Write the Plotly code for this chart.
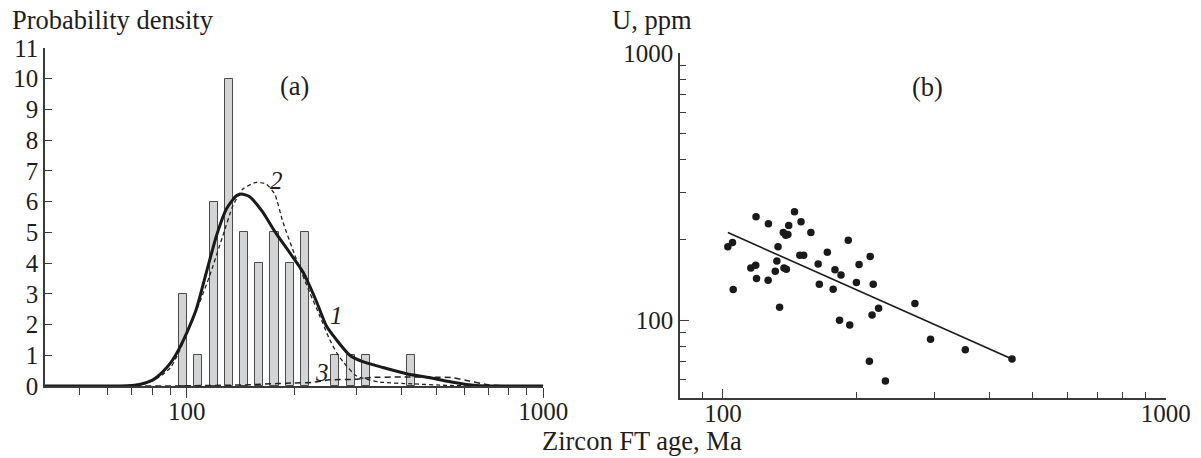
import numpy as np
import plotly.graph_objects as go

# ---------------- data: panel (a) ----------------
bar_age = [97.8, 107.6, 118.9, 131.0, 144.7, 159.5, 176.2, 194.3, 214.8, 260.8, 289.0, 318.2, 426.0]
bar_count = [3, 1, 6, 10, 5, 4, 5, 4, 5, 1, 1, 1, 1]

curve1_age = [40, 60, 68, 73.6, 80.3, 85.7, 90, 95, 100, 106.3, 113.4, 121.1, 129.1, 137.7, 142.2,
              150, 163.5, 176, 194.1, 211.9, 231, 246.4, 263, 286.5, 310, 355, 413, 481, 558, 609, 664, 1000]
curve1_pd = [0, 0, 0.01, 0.05, 0.2, 0.47, 0.75, 1.2, 1.74, 2.5, 3.69, 4.89, 5.76, 6.19, 6.25,
             6.16, 5.65, 5.05, 4.35, 3.7, 2.75, 1.95, 1.5, 1.0, 0.8, 0.6, 0.4, 0.27, 0.12, 0.05, 0.01, 0]

curve2_age = [40, 65, 72, 78.5, 85, 90, 95, 100, 108.6, 115.8, 126.2, 134.6, 143.6, 156.6, 167, 176.3,
              186.2, 202.8, 221.2, 236, 251.4, 263, 274, 299, 347.6, 430, 535, 650, 1000]
curve2_pd = [0, 0, 0.03, 0.12, 0.35, 0.6, 1.1, 1.75, 2.72, 3.58, 4.89, 5.86, 6.41, 6.63, 6.57, 6.25,
             5.32, 4.13, 3.04, 2.28, 1.52, 1.09, 0.8, 0.33, 0.13, 0.07, 0.02, 0, 0]

curve3_age = [40, 90, 120, 150, 180, 200, 225, 251, 300, 330, 400, 480, 557, 620, 700, 800, 1000]
curve3_pd = [0, 0, 0.02, 0.04, 0.08, 0.1, 0.12, 0.2, 0.22, 0.28, 0.29, 0.29, 0.27, 0.16, 0.04, 0, 0]

# ---------------- data: panel (b) ----------------
u_age = [102.6, 105.1, 105.5, 115.6, 118.6, 118.8, 119.1, 126.7, 126.5, 131.3, 132.4, 133.2, 134.3,
         136.9, 138.6, 140.2, 137.4, 139.1, 140.8, 145.1, 150.1, 149.2, 152.2, 158.0, 164.1, 165.1,
         172.1, 177.4, 179.1, 183.4, 184.8, 191.9, 193.4, 200.2, 203.0, 214.2, 215.1, 217.2, 218.5,
         224.7, 232.8, 271.4, 294.4, 352.7, 449.7]
u_ppm = [188.4, 195.4, 130.3, 157.1, 160.8, 244.1, 143.3, 229.8, 141.3, 152.7, 166.9, 188.4, 111.9,
         213.1, 208.4, 209.5, 157.1, 155.3, 226.5, 254.9, 233.7, 175.4, 175.4, 213.1, 162.6, 136.5,
         179.9, 130.7, 154.5, 100.0, 147.9, 199.5, 96.0, 138.4, 161.9, 70.2, 173.4, 104.7, 136.5,
         110.9, 59.2, 115.5, 84.9, 77.6, 71.6]
fit_age = [102.6, 449.7]
fit_ppm = [213.1, 71.6]

# tick labels
x_major = [100, 1000]
x_major_text = ["100", "1000"]
y_major_b = [100, 1000]
y_major_b_text = ["100", "1000"]
pd_ticks = list(range(0, 12))

W, H = 1201, 458
FONT = "Liberation Serif"
FS = 25
INK = "#1e1e1e"
AX = "#3a3a3a"

fig = go.Figure()

# histogram bars (width proportional to position so they look even on log axis)
bar_w = [a * 0.052 for a in bar_age]
fig.add_trace(go.Bar(x=bar_age, y=bar_count, width=bar_w,
                     marker=dict(color="#d3d4d6", line=dict(color="#4a4a4a", width=1)),
                     xaxis="x", yaxis="y"))

fig.add_trace(go.Scatter(x=curve3_age, y=curve3_pd, mode="lines",
                         line=dict(color="#222", width=1.5, dash="6px,4px", shape="spline", smoothing=0.6),
                         xaxis="x", yaxis="y"))
fig.add_trace(go.Scatter(x=curve2_age, y=curve2_pd, mode="lines",
                         line=dict(color="#222", width=1.3, dash="4px,3px", shape="spline", smoothing=0.6),
                         xaxis="x", yaxis="y"))
fig.add_trace(go.Scatter(x=curve1_age, y=curve1_pd, mode="lines",
                         line=dict(color="#1a1a1a", width=3, shape="spline", smoothing=0.6),
                         xaxis="x", yaxis="y"))

# panel b
fig.add_trace(go.Scatter(x=fit_age, y=fit_ppm, mode="lines",
                         line=dict(color="#1a1a1a", width=1.6), xaxis="x2", yaxis="y2"))
fig.add_trace(go.Scatter(x=u_age, y=u_ppm, mode="markers",
                         marker=dict(color="#1a1a1a", size=7.5, line=dict(width=0)),
                         xaxis="x2", yaxis="y2"))

minor_a = [50, 60, 70, 80, 90, 200, 300, 400, 500, 600, 700, 800, 900]
minor_bx = [90, 200, 300, 400, 500, 600, 700, 800, 900]
minor_by = [60, 70, 80, 90, 200, 300, 400, 500, 600, 700, 800, 900]

tickfont = dict(family=FONT, size=FS, color=INK)


def px_x(p):
    return p / W


def px_y(p):
    return 1 - p / H


fig.update_layout(
    width=W, height=H, margin=dict(l=0, r=0, t=0, b=0),
    paper_bgcolor="white", plot_bgcolor="white", showlegend=False,
    bargap=0,
    xaxis=dict(type="log", range=[np.log10(40), 3], domain=[px_x(45), px_x(543.3)], anchor="y",
               tickmode="array", tickvals=x_major, ticktext=x_major_text,
               ticks="outside", ticklen=10, tickwidth=1.3, tickcolor=AX,
               showline=True, linecolor=AX, linewidth=1.5, showgrid=False, zeroline=False,
               tickfont=tickfont, automargin=False, ticklabelstandoff=-8,
               minor=dict(tickmode="array", tickvals=minor_a, ticks="outside", ticklen=7,
                          tickwidth=1.2, tickcolor=AX, showgrid=False)),
    yaxis=dict(range=[0, 11], domain=[px_y(386), px_y(48)], anchor="x",
               tickmode="array", tickvals=pd_ticks, ticks="inside", ticklen=7, tickwidth=1.3,
               tickcolor=AX, showline=True, linecolor=AX, linewidth=1.5, showgrid=False,
               zeroline=False, tickfont=tickfont, automargin=False),
    xaxis2=dict(type="log", range=[np.log10(80), 3], domain=[px_x(680), px_x(1165.7)], anchor="y2",
                tickmode="array", tickvals=x_major, ticktext=x_major_text,
                ticks="inside", ticklen=9, tickwidth=1.3, tickcolor=AX,
                showline=True, linecolor=AX, linewidth=1.5, showgrid=False, zeroline=False,
                tickfont=tickfont, automargin=False, ticklabelstandoff=-7,
                minor=dict(tickmode="array", tickvals=minor_bx, ticks="inside", ticklen=6,
                           tickwidth=1.2, tickcolor=AX, showgrid=False)),
    yaxis2=dict(type="log", range=[np.log10(51.3), 3], domain=[px_y(397.7), px_y(53.3)], anchor="x2",
                tickmode="array", tickvals=y_major_b, ticktext=y_major_b_text,
                ticks="inside", ticklen=9, tickwidth=1.3, tickcolor=AX,
                showline=True, linecolor=AX, linewidth=1.5, showgrid=False, zeroline=False,
                tickfont=tickfont, automargin=False,
                minor=dict(tickmode="array", tickvals=minor_by, ticks="inside", ticklen=6,
                           tickwidth=1.2, tickcolor=AX, showgrid=False)),
)

txt = dict(family=FONT, size=26.5, color=INK)
lab = dict(family=FONT, size=25, color=INK)
ann = [
    dict(text="Probability density", xref="paper", yref="paper", x=px_x(10), y=px_y(20),
         xanchor="left", yanchor="middle", showarrow=False, font=txt),
    dict(text="U, ppm", xref="paper", yref="paper", x=px_x(610), y=px_y(20),
         xanchor="left", yanchor="middle", showarrow=False, font=txt),
    dict(text="Zircon FT age, Ma", xref="paper", yref="paper", x=px_x(642), y=px_y(441),
         xanchor="center", yanchor="middle", showarrow=False, font=txt),
    dict(text="(a)", xref="x", yref="y", x=np.log10(201), y=9.77,
         xanchor="center", yanchor="middle", showarrow=False, font=txt),
    dict(text="(b)", xref="x2", yref="y2", x=np.log10(290), y=np.log10(745),
         xanchor="center", yanchor="middle", showarrow=False, font=txt),
    dict(text="<i>1</i>", xref="x", yref="y", x=np.log10(263), y=2.28,
         xanchor="center", yanchor="middle", showarrow=False, font=lab),
    dict(text="<i>2</i>", xref="x", yref="y", x=np.log10(178), y=6.7,
         xanchor="center", yanchor="middle", showarrow=False, font=lab),
    dict(text="<i>3</i>", xref="x", yref="y", x=np.log10(240), y=0.43,
         xanchor="center", yanchor="middle", showarrow=False, font=lab),
]
fig.update_layout(annotations=ann)

# remove the default 8px body margin so the figure fills the window exactly
fig.write_html("out.html", config={"displayModeBar": False},
               post_script="document.body.style.margin='0';")
